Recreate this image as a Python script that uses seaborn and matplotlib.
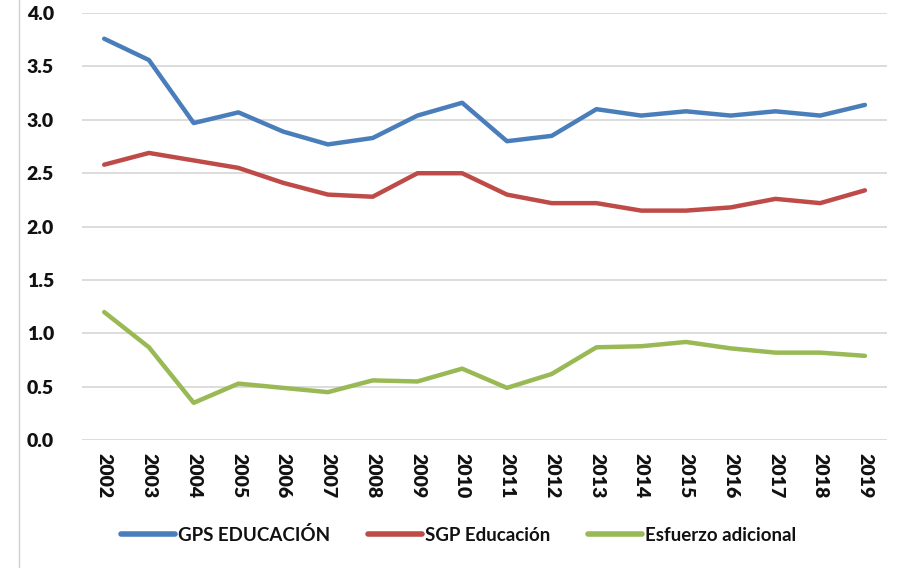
import pandas as pd
import matplotlib.pyplot as plt
import seaborn as sns
from matplotlib.lines import Line2D

# Values
years = [str(y) for y in range(2002, 2020)]
gps = [3.76, 3.56, 2.97, 3.07, 2.89, 2.77, 2.83, 3.04, 3.16, 2.80, 2.85, 3.10, 3.04, 3.08, 3.04, 3.08, 3.04, 3.14]
sgp = [2.58, 2.69, 2.62, 2.55, 2.41, 2.30, 2.28, 2.50, 2.50, 2.30, 2.22, 2.22, 2.15, 2.15, 2.18, 2.26, 2.22, 2.34]
esf = [1.20, 0.87, 0.35, 0.53, 0.49, 0.45, 0.56, 0.55, 0.67, 0.49, 0.62, 0.87, 0.88, 0.92, 0.86, 0.82, 0.82, 0.79]
series = ["GPS EDUCACIÓN", "SGP Educación", "Esfuerzo adicional"]
colors = ["#4a7ebb", "#be4b48", "#98b954"]

df = pd.DataFrame({
    "year": years * 3,
    "value": gps + sgp + esf,
    "serie": [series[0]] * len(years) + [series[1]] * len(years) + [series[2]] * len(years),
})

sns.set_style("white")
plt.rcParams['font.family'] = ['Lato', 'DejaVu Sans']

fig = plt.figure(figsize=(8.99, 5.68), dpi=100)
ax = fig.add_axes([0.091, 0.225, 0.896, 0.752])

sns.lineplot(data=df, x="year", y="value", hue="serie", hue_order=series,
             palette=colors, linewidth=3.2, ax=ax, sort=False)

ax.set_ylim(0, 4.0)
ax.set_yticks([0, 0.5, 1.0, 1.5, 2.0, 2.5, 3.0, 3.5, 4.0])
ax.set_yticklabels([f"{v:.1f}" for v in ax.get_yticks()])
ax.set_xlim(-0.5, len(years) - 0.5)
ax.grid(axis="y", color="#d9d9d9", linewidth=1.3)
ax.set_axisbelow(True)
for s in ax.spines.values():
    s.set_visible(False)
ax.set_xlabel("")
ax.set_ylabel("")
ax.tick_params(axis="both", length=0, labelsize=14, labelcolor="#111111")
ax.tick_params(axis="y", pad=20)
ax.tick_params(axis="x", pad=9)
for lab in ax.get_xticklabels():
    lab.set_rotation(-90)
    lab.set_fontweight("heavy")
for lab in ax.get_yticklabels():
    lab.set_fontweight("heavy")

handles, labels = ax.get_legend_handles_labels()
ax.legend_.remove()
leg = fig.legend(handles, labels, loc="center", bbox_to_anchor=(0.51, 0.058), ncol=3,
                 frameon=False, handlelength=2.9, handletextpad=0.15, columnspacing=2.0,
                 prop={"size": 13.5, "weight": "bold"})
for h in leg.get_lines():
    h.set_linewidth(4)
for t in leg.get_texts():
    t.set_color("#111111")

# left frame line of the original chart box
fig.add_artist(Line2D([0.021, 0.021], [0, 1], transform=fig.transFigure, color="#d0d0d0", linewidth=1))

fig.savefig("out.png", dpi=100)
